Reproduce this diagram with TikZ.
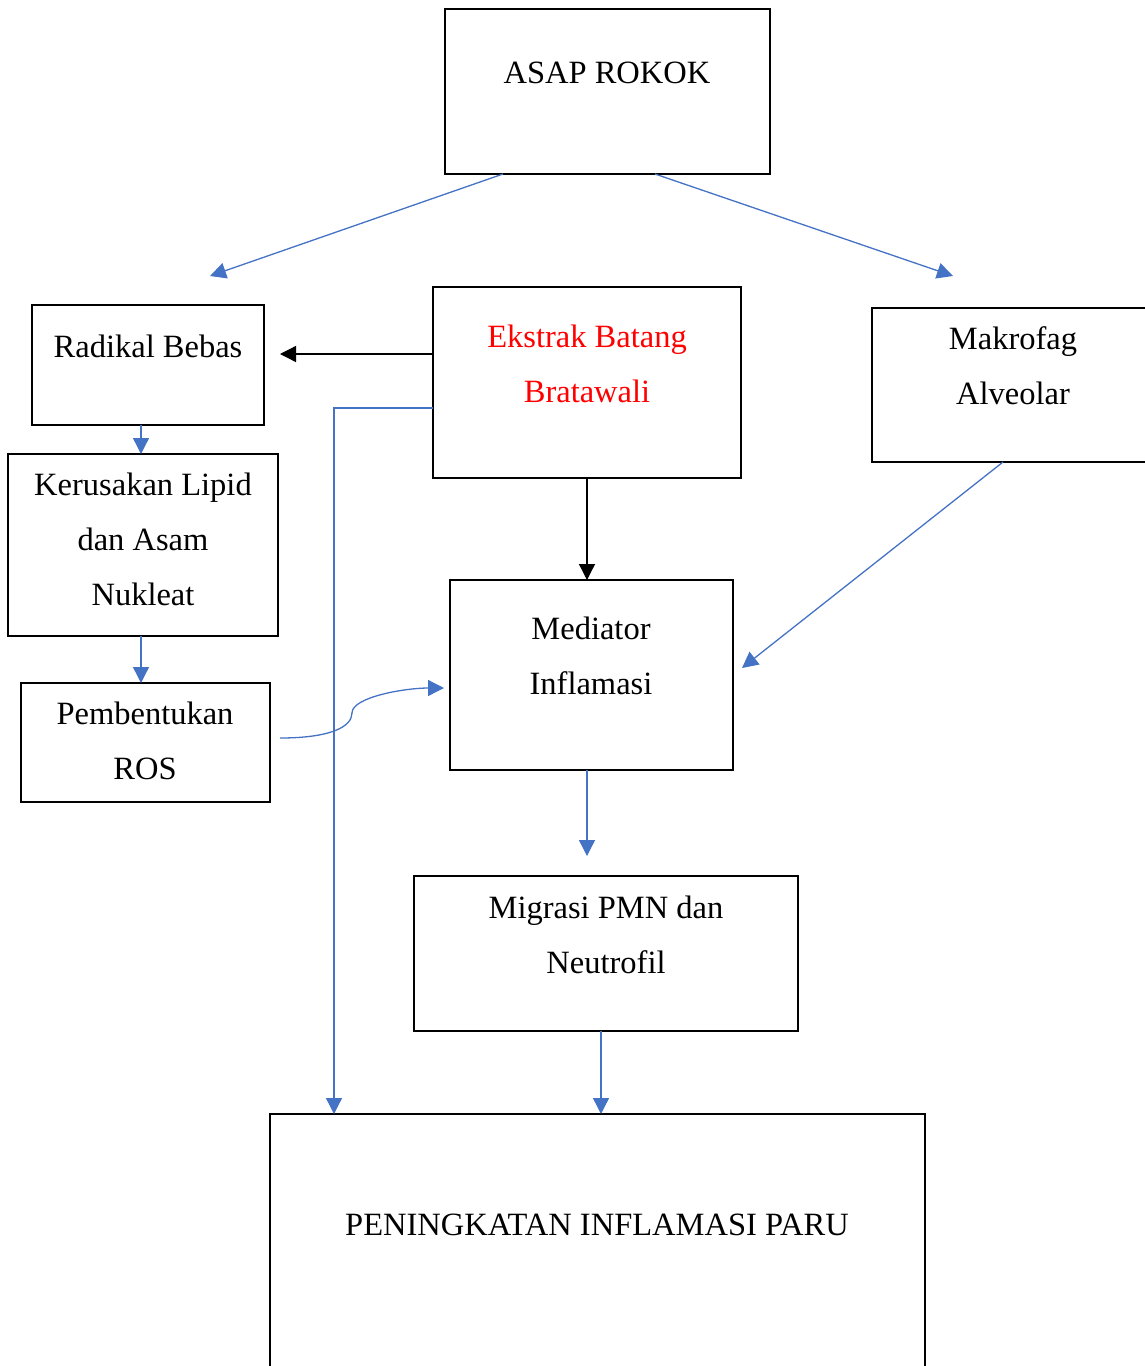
\documentclass[tikz,border=0pt]{standalone}
\usepackage{fontspec}
\setmainfont{Liberation Serif}
\usetikzlibrary{arrows.meta}
\definecolor{arrblue}{HTML}{4472C4}
\definecolor{txtred}{HTML}{FF0000}
\begin{document}
\begin{tikzpicture}[x=1pt,y=-1pt,
  box/.style={draw=black,line width=2.6pt,inner sep=0pt,outer sep=0pt},
  txt/.style={anchor=base,inner sep=0pt,font=\fontsize{32.5}{38}\selectfont},
  bl/.style={draw=arrblue,line width=1.3pt,-{Triangle[width=16pt,length=16pt]}},
  bk/.style={draw=black,line width=1.3pt,-{Triangle[width=16pt,length=16pt]}}]
\useasboundingbox (0,0) rectangle (1145,1366);

% boxes
\node[box,minimum width=325pt,minimum height=165pt] (asap) at (607.5,91.5) {};
\node[box,minimum width=232pt,minimum height=120pt] (radikal) at (148,365) {};
\node[box,minimum width=308pt,minimum height=191pt] (ekstrak) at (587,382.5) {};
\node[box,minimum width=278pt,minimum height=154pt] (makro) at (1011,385) {};
\node[box,minimum width=270pt,minimum height=182pt] (kerusakan) at (143,545) {};
\node[box,minimum width=283pt,minimum height=190pt] (mediator) at (591.5,675) {};
\node[box,minimum width=249pt,minimum height=119pt] (ros) at (145.5,742.5) {};
\node[box,minimum width=384pt,minimum height=155pt] (migrasi) at (606,953.5) {};
\node[box,minimum width=655pt,minimum height=261pt] (paru) at (597.5,1244.5) {};

% texts
\node[txt] (tasap) at (607,83) {ASAP ROKOK};
\node[txt] (trad) at (148,357) {Radikal Bebas};
\node[txt,text=txtred] (tek1) at (587,347) {Ekstrak Batang};
\node[txt,text=txtred] (tek2) at (587,402) {Bratawali};
\node[txt] (tma1) at (1013,349) {Makrofag};
\node[txt] (tma2) at (1013,404) {Alveolar};
\node[txt] (tke1) at (143,495) {Kerusakan Lipid};
\node[txt] (tke2) at (143,550) {dan Asam};
\node[txt] (tke3) at (143,605) {Nukleat};
\node[txt] (tme1) at (591,639) {Mediator};
\node[txt] (tme2) at (591,694) {Inflamasi};
\node[txt] (tro1) at (145,724) {Pembentukan};
\node[txt] (tro2) at (145,779) {ROS};
\node[txt] (tmi1) at (606,918) {Migrasi PMN dan};
\node[txt] (tmi2) at (606,973) {Neutrofil};
\node[txt] (tpa) at (597,1235) {PENINGKATAN INFLAMASI PARU};

% helper coordinates
\coordinate (e1) at (210,276);
\coordinate (e2) at (953,276);
\coordinate (e3) at (280,354);
\coordinate (e4) at (742,668);
\coordinate (e5) at (587,856);
\coordinate (c1) at (280,738);
\coordinate (c2) at (444,688);
\path ([xshift=-2pt]kerusakan.north) coordinate (k1);
\path ([xshift=-4.5pt]mediator.south) coordinate (m1);
\path ([xshift=-263.5pt]paru.north) coordinate (p1);
\path ([xshift=3.5pt]paru.north) coordinate (p2);

% connectors
\draw[bl] ([xshift=-104.5pt]asap.south) -- (e1);
\draw[bl] ([xshift=47.5pt]asap.south) -- (e2);
\draw[bk] ([yshift=28.5pt]ekstrak.west) -- (e3);
\draw[bl] ([yshift=-25.5pt]ekstrak.west) -| (p1);
\draw[bk] (ekstrak.south) -- (ekstrak.south |- mediator.north);
\draw[bl] ([xshift=-8pt]makro.south) -- (e4);
\draw[bl] (k1 |- radikal.south) -- (k1);
\draw[bl] (k1 |- kerusakan.south) -- (k1 |- ros.north);
\draw[bl] (c1) .. controls (330,738) and (352,727) .. (352,713)
          .. controls (352,697) and (405,688) .. (c2);
\draw[bl] (m1) -- (e5);
\draw[bl] (p2 |- migrasi.south) -- (p2);
\end{tikzpicture}
\end{document}
